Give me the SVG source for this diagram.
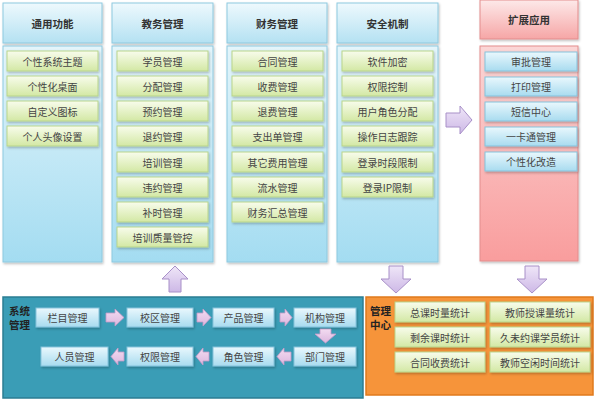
<svg xmlns="http://www.w3.org/2000/svg" width="600" height="400" viewBox="0 0 600 400">
<defs>
<linearGradient id="gHead" x1="0" y1="0" x2="0" y2="1"><stop offset="0" stop-color="#eef9fd"/><stop offset="1" stop-color="#b4e1f2"/></linearGradient>
<linearGradient id="gBody" x1="0" y1="0" x2="0" y2="1"><stop offset="0" stop-color="#e4f5fb"/><stop offset="1" stop-color="#a3dcf1"/></linearGradient>
<linearGradient id="gItem" x1="0" y1="0" x2="0" y2="1"><stop offset="0" stop-color="#f8fcec"/><stop offset="1" stop-color="#d3e8a4"/></linearGradient>
<linearGradient id="gPHead" x1="0" y1="0" x2="0" y2="1"><stop offset="0" stop-color="#fde9e9"/><stop offset="1" stop-color="#f6a6a6"/></linearGradient>
<linearGradient id="gPBody" x1="0" y1="0" x2="0" y2="1"><stop offset="0" stop-color="#fbd6d6"/><stop offset="1" stop-color="#f99d9d"/></linearGradient>
<linearGradient id="gBItem" x1="0" y1="0" x2="0" y2="1"><stop offset="0" stop-color="#eaf8fd"/><stop offset="1" stop-color="#a8dbef"/></linearGradient>
<linearGradient id="gArrow" x1="0" y1="0" x2="0" y2="1"><stop offset="0" stop-color="#efe6f8"/><stop offset="1" stop-color="#cdb8e6"/></linearGradient>
<linearGradient id="gSmall" x1="0" y1="0" x2="0" y2="1"><stop offset="0" stop-color="#f3dcf1"/><stop offset="1" stop-color="#dcb6de"/></linearGradient>
<filter id="sh" x="-10%" y="-10%" width="130%" height="140%"><feDropShadow dx="1" dy="1.5" stdDeviation="1" flood-color="#000" flood-opacity="0.25"/></filter>
</defs>
<style>
text{font-family:"Microsoft YaHei","Noto Sans CJK SC",sans-serif;text-anchor:middle;dominant-baseline:central}
.head{fill:url(#gHead);stroke:#8ec9df;stroke-width:1;filter:url(#sh)}
.body{fill:url(#gBody);stroke:#8ec9df;stroke-width:1;filter:url(#sh)}
.item{fill:url(#gItem);stroke:#b9d58c;stroke-width:1;filter:url(#sh)}
.phead{fill:url(#gPHead);stroke:#e38d8d;stroke-width:1;filter:url(#sh)}
.pbody{fill:url(#gPBody);stroke:#e38d8d;stroke-width:1;filter:url(#sh)}
.bitem{fill:url(#gBItem);stroke:#85c3dc;stroke-width:1;filter:url(#sh)}
.ht{font-size:10.5px;font-weight:bold;fill:#333}
.it{font-size:10px;fill:#444}
.lbl{font-size:10.5px;font-weight:bold;fill:#222;text-anchor:start}
.big{fill:url(#gArrow);stroke:#a890c8;stroke-width:1}
.sm{fill:url(#gSmall);stroke:#c49ac8;stroke-width:0.8}
</style>
<rect width="600" height="400" fill="#ffffff"/>

<g id="col-general">
<rect class="head" x="3" y="3" width="99" height="40"/><text class="ht" x="52.5" y="23">通用功能</text>
<rect class="body" x="3" y="46" width="99" height="216"/>
<g id="g1"><rect class="item" x="7" y="51" width="91" height="20"/><text class="it" x="52.5" y="61">个性系统主题</text></g>
<g id="g2"><rect class="item" x="7" y="76" width="91" height="20"/><text class="it" x="52.5" y="86">个性化桌面</text></g>
<g id="g3"><rect class="item" x="7" y="101" width="91" height="20"/><text class="it" x="52.5" y="111">自定义图标</text></g>
<g id="g4"><rect class="item" x="7" y="126" width="91" height="20"/><text class="it" x="52.5" y="136">个人头像设置</text></g>
</g>

<g id="col-edu">
<rect class="head" x="112" y="3" width="101" height="40"/><text class="ht" x="162.5" y="23">教务管理</text>
<rect class="body" x="112" y="46" width="101" height="216"/>
<g id="e1"><rect class="item" x="117" y="51" width="91" height="20"/><text class="it" x="162.5" y="61">学员管理</text></g>
<g id="e2"><rect class="item" x="117" y="76" width="91" height="20"/><text class="it" x="162.5" y="86">分配管理</text></g>
<g id="e3"><rect class="item" x="117" y="101" width="91" height="20"/><text class="it" x="162.5" y="111">预约管理</text></g>
<g id="e4"><rect class="item" x="117" y="126" width="91" height="20"/><text class="it" x="162.5" y="136">退约管理</text></g>
<g id="e5"><rect class="item" x="117" y="152" width="91" height="20"/><text class="it" x="162.5" y="162">培训管理</text></g>
<g id="e6"><rect class="item" x="117" y="177" width="91" height="20"/><text class="it" x="162.5" y="187">违约管理</text></g>
<g id="e7"><rect class="item" x="117" y="202" width="91" height="20"/><text class="it" x="162.5" y="212">补时管理</text></g>
<g id="e8"><rect class="item" x="117" y="227" width="91" height="20"/><text class="it" x="162.5" y="237">培训质量管控</text></g>
</g>

<g id="col-finance">
<rect class="head" x="227" y="3" width="100" height="40"/><text class="ht" x="277" y="23">财务管理</text>
<rect class="body" x="227" y="46" width="100" height="216"/>
<g id="f1"><rect class="item" x="232" y="51" width="91" height="20"/><text class="it" x="277.5" y="61">合同管理</text></g>
<g id="f2"><rect class="item" x="232" y="76" width="91" height="20"/><text class="it" x="277.5" y="86">收费管理</text></g>
<g id="f3"><rect class="item" x="232" y="101" width="91" height="20"/><text class="it" x="277.5" y="111">退费管理</text></g>
<g id="f4"><rect class="item" x="232" y="126" width="91" height="20"/><text class="it" x="277.5" y="136">支出单管理</text></g>
<g id="f5"><rect class="item" x="232" y="152" width="91" height="20"/><text class="it" x="277.5" y="162">其它费用管理</text></g>
<g id="f6"><rect class="item" x="232" y="177" width="91" height="20"/><text class="it" x="277.5" y="187">流水管理</text></g>
<g id="f7"><rect class="item" x="232" y="202" width="91" height="20"/><text class="it" x="277.5" y="212">财务汇总管理</text></g>
</g>

<g id="col-security">
<rect class="head" x="337" y="3" width="101" height="40"/><text class="ht" x="387.5" y="23">安全机制</text>
<rect class="body" x="337" y="46" width="101" height="216"/>
<g id="s1"><rect class="item" x="342" y="51" width="91" height="20"/><text class="it" x="387.5" y="61">软件加密</text></g>
<g id="s2"><rect class="item" x="342" y="76" width="91" height="20"/><text class="it" x="387.5" y="86">权限控制</text></g>
<g id="s3"><rect class="item" x="342" y="101" width="91" height="20"/><text class="it" x="387.5" y="111">用户角色分配</text></g>
<g id="s4"><rect class="item" x="342" y="126" width="91" height="20"/><text class="it" x="387.5" y="136">操作日志跟踪</text></g>
<g id="s5"><rect class="item" x="342" y="152" width="91" height="20"/><text class="it" x="387.5" y="162">登录时段限制</text></g>
<g id="s6"><rect class="item" x="342" y="177" width="91" height="20"/><text class="it" x="387.5" y="187">登录IP限制</text></g>
</g>

<g id="col-ext">
<rect class="phead" x="480" y="0" width="98" height="39"/><text class="ht" x="529" y="19">扩展应用</text>
<rect class="pbody" x="480" y="46" width="98" height="215"/>
<g id="x1"><rect class="bitem" x="485" y="52" width="92" height="19"/><text class="it" x="531" y="61.5">审批管理</text></g>
<g id="x2"><rect class="bitem" x="485" y="77" width="92" height="19"/><text class="it" x="531" y="86.5">打印管理</text></g>
<g id="x3"><rect class="bitem" x="485" y="102" width="92" height="19"/><text class="it" x="531" y="111.5">短信中心</text></g>
<g id="x4"><rect class="bitem" x="485" y="127" width="92" height="19"/><text class="it" x="531" y="136.5">一卡通管理</text></g>
<g id="x5"><rect class="bitem" x="485" y="152" width="92" height="19"/><text class="it" x="531" y="161.5">个性化改造</text></g>
</g>

<g id="sys-panel">
<rect x="3" y="297" width="360" height="101" fill="#3a9db6" stroke="#2b7d93" stroke-width="1.5"/>
<text class="lbl" x="9" y="310">系统</text><text class="lbl" x="9" y="324">管理</text>
<g id="m1"><rect class="bitem" x="36" y="308" width="63" height="19"/><text class="it" x="67.5" y="317.5">栏目管理</text></g>
<g id="m2"><rect class="bitem" x="127" y="308" width="66" height="19"/><text class="it" x="160" y="317.5">校区管理</text></g>
<g id="m3"><rect class="bitem" x="213" y="308" width="61" height="19"/><text class="it" x="243.5" y="317.5">产品管理</text></g>
<g id="m4"><rect class="bitem" x="294" y="308" width="62" height="19"/><text class="it" x="325" y="317.5">机构管理</text></g>
<g id="m5"><rect class="bitem" x="41" y="347" width="67" height="19"/><text class="it" x="74.5" y="356.5">人员管理</text></g>
<g id="m6"><rect class="bitem" x="127" y="347" width="66" height="19"/><text class="it" x="160" y="356.5">权限管理</text></g>
<g id="m7"><rect class="bitem" x="213" y="347" width="61" height="19"/><text class="it" x="243.5" y="356.5">角色管理</text></g>
<g id="m8"><rect class="bitem" x="294" y="347" width="62" height="19"/><text class="it" x="325" y="356.5">部门管理</text></g>
</g>

<g id="mgmt-panel">
<rect x="366" y="297" width="227" height="98" fill="#f6943a" stroke="#e07a1c" stroke-width="1.5"/>
<text class="lbl" x="370" y="310">管理</text><text class="lbl" x="370" y="324">中心</text>
<g id="c1"><rect class="item" x="395" y="302" width="90" height="20"/><text class="it" x="440" y="312">总课时量统计</text></g>
<g id="c2"><rect class="item" x="490" y="302" width="100" height="20"/><text class="it" x="540" y="312">教师授课量统计</text></g>
<g id="c3"><rect class="item" x="395" y="327" width="90" height="20"/><text class="it" x="440" y="337">剩余课时统计</text></g>
<g id="c4"><rect class="item" x="490" y="327" width="100" height="20"/><text class="it" x="540" y="337">久未约课学员统计</text></g>
<g id="c5"><rect class="item" x="395" y="352" width="90" height="20"/><text class="it" x="440" y="362">合同收费统计</text></g>
<g id="c6"><rect class="item" x="490" y="352" width="100" height="20"/><text class="it" x="540" y="362">教师空闲时间统计</text></g>
</g>

<g id="connectors">
<path class="big" d="M446,113 H460 V106 L472,120 L460,134 V127 H446 Z"/>
<path class="big" d="M169,292 V279 H162 L175,266 L188,279 H181 V292 Z"/>
<path class="big" d="M389,266 H403 V279 H411 L396,293 L381,279 H389 Z"/>
<path class="big" d="M525,266 H539 V279 H547 L532,293 L517,279 H525 Z"/>
<path class="sm" d="M106,313 H115 V309 L124,317.5 L115,326 V322 H106 Z"/>
<path class="sm" d="M197,313 H203 V309 L211,317.5 L203,326 V322 H197 Z"/>
<path class="sm" d="M280,313 H285 V309 L292,317.5 L285,326 V322 H280 Z"/>
<path class="sm" d="M320,329 H331 V334 H336 L325.5,343 L315,334 H320 Z"/>
<path class="sm" d="M291,352 H284 V348 L277,356.5 L284,365 V361 H291 Z"/>
<path class="sm" d="M209,352 H203 V348 L196,356.5 L203,365 V361 H209 Z"/>
<path class="sm" d="M124,352 H118 V348 L111,356.5 L118,365 V361 H124 Z"/>
</g>
</svg>
